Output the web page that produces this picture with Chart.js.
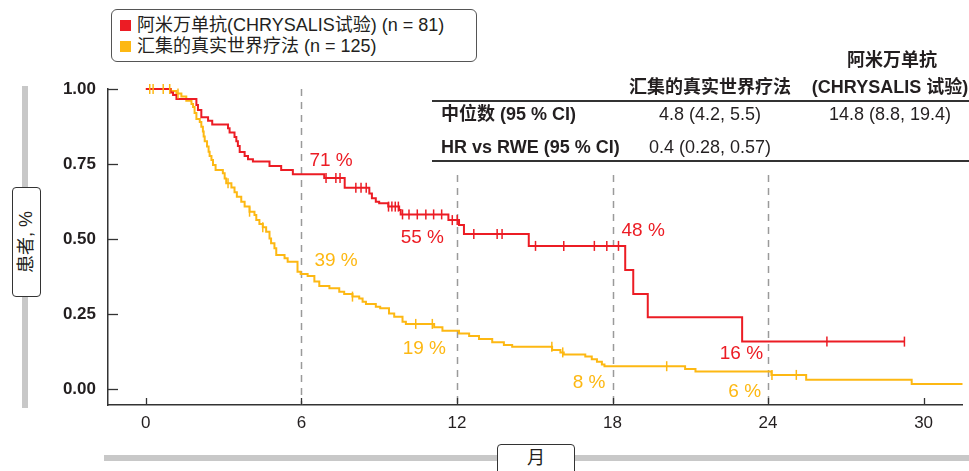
<!DOCTYPE html>
<html>
<head>
<meta charset="utf-8">
<script src="https://cdn.jsdelivr.net/npm/chart.js@4.4.1/dist/chart.umd.min.js"></script>
<style>
html,body{margin:0;padding:0;background:#fff;}
#wrap{position:relative;width:969px;height:471px;overflow:hidden;font-family:"Liberation Sans","Noto Sans CJK SC",Arial,sans-serif;color:#231f20;}
#c{position:absolute;left:0;top:0;}
.abs{position:absolute;white-space:nowrap;}
.legend{left:111px;top:9px;width:364px;height:51px;border:1.3px solid #555;border-radius:6px;background:#fff;}
.sq{position:absolute;width:11px;height:11px;}
.lt{position:absolute;font-size:18px;line-height:20px;}
.hdr{font-weight:bold;font-size:18px;line-height:20px;text-align:center;}
.cell{font-size:18px;line-height:20px;text-align:center;}
.rowlab{font-weight:bold;font-size:18px;line-height:20px;}
.hline{position:absolute;height:1.5px;background:#333;}
.bar{position:absolute;background:#c8c8c8;}
.tbox{position:absolute;background:#fff;border:1.3px solid #333;border-radius:4px;box-sizing:border-box;}
</style>
</head>
<body>
<div id="wrap">
<canvas id="c" width="969" height="471"></canvas>

<div class="abs legend">
  <div class="sq" style="left:8px;top:10px;background:#ec1c24;"></div>
  <div class="lt" style="left:25px;top:5px;">阿米万单抗(CHRYSALIS试验) (n = 81)</div>
  <div class="sq" style="left:8px;top:31px;background:#fdb813;"></div>
  <div class="lt" style="left:25px;top:26px;">汇集的真实世界疗法 (n = 125)</div>
</div>

<div class="abs hdr" style="left:802px;top:50px;width:180px;">阿米万单抗</div>
<div class="abs hdr" style="left:620px;top:77px;width:180px;">汇集的真实世界疗法</div>
<div class="abs hdr" style="left:800px;top:77px;width:180px;">(CHRYSALIS 试验)</div>
<div class="hline" style="left:432px;top:100px;width:537px;"></div>
<div class="abs rowlab" style="left:441px;top:104px;">中位数 (95 % CI)</div>
<div class="abs cell" style="left:620px;top:104px;width:180px;">4.8 (4.2, 5.5)</div>
<div class="abs cell" style="left:800px;top:104px;width:180px;">14.8 (8.8, 19.4)</div>
<div class="abs rowlab" style="left:441px;top:137px;">HR vs RWE (95 % CI)</div>
<div class="abs cell" style="left:620px;top:137px;width:180px;">0.4 (0.28, 0.57)</div>
<div class="hline" style="left:432px;top:160px;width:537px;"></div>

<div class="bar" style="left:22px;top:86px;width:6px;height:322px;"></div>
<div class="tbox" style="left:12px;top:187px;width:29px;height:110px;"></div>
<div class="abs" style="left:26px;top:242px;font-size:18px;line-height:20px;transform:translate(-50%,-50%) rotate(-90deg);">患者, %</div>

<div class="bar" style="left:104px;top:455px;width:865px;height:6px;"></div>
<div class="tbox" style="left:497px;top:444px;width:78px;height:40px;"></div>
<div class="abs" style="left:536px;top:458px;font-size:18px;line-height:20px;transform:translate(-50%,-50%);">月</div>
</div>

<script>
// ---------- data ----------
const xTicks = [0, 6, 12, 18, 24, 30];
const yTicks = [0, 0.25, 0.5, 0.75, 1.0];
const milestoneMonths = [6, 12, 18, 24];
const amiMilestoneLabels = ['71 %', '55 %', '48 %', '16 %'];
const rweMilestoneLabels = ['39 %', '19 %', '8 %', '6 %'];

const amiTimes = [0, 0.95, 1.05, 1.18, 1.95, 2.01, 2.14, 2.4, 2.56, 3.17, 3.23, 3.42, 3.49, 3.55, 3.62, 3.81, 3.94, 4.13, 4.77, 5.22, 5.67,
  6.88, 7.67, 8.62, 8.72, 8.87, 9.0, 9.35, 9.77, 9.83, 11.67, 12.08, 12.27, 14.77, 18.49, 18.8, 19.36, 23.0, 29.26];
const amiSurv = [1.0, 0.988, 0.98, 0.967, 0.947, 0.93, 0.906, 0.894, 0.882, 0.869, 0.855, 0.84, 0.826, 0.81, 0.79, 0.777, 0.766, 0.758, 0.743, 0.73, 0.716,
  0.703, 0.671, 0.652, 0.636, 0.624, 0.619, 0.608, 0.597, 0.582, 0.563, 0.547, 0.517, 0.477, 0.397, 0.317, 0.239, 0.158, 0.158];
const amiCensor = [6.95, 7.33, 7.49, 8.1, 8.3, 8.5, 9.36, 9.49, 9.62, 9.74, 9.9, 10.15, 10.47, 10.8, 11.1, 11.41, 11.82, 12.01,
  12.65, 13.55, 13.74, 15.03, 16.12, 17.3, 17.78, 18.23, 26.27, 29.26];

const rweTimes = [0, 0.97, 1.18, 1.37, 1.56, 1.76, 1.82, 1.88, 1.95, 2.08, 2.14, 2.2, 2.23, 2.27, 2.36, 2.42, 2.46, 2.53, 2.59, 2.69, 2.97,
  3.04, 3.1, 3.3, 3.42, 3.51, 3.68, 3.81, 4.0, 4.19, 4.26, 4.38, 4.51, 4.64, 4.77, 4.83, 4.96, 5.03, 5.35, 5.47, 5.85, 5.97, 6.24, 6.5,
  6.69, 7.08, 7.46, 7.65, 7.97, 8.23, 8.36, 8.49, 8.87, 9.04, 9.38, 9.58, 9.9, 10.03, 11.12, 11.44, 12.08, 12.47, 12.85, 13.36, 13.81,
  14.13, 15.67, 15.99, 16.12, 16.95, 17.2, 17.4, 17.59, 17.69, 20.8, 21.2, 24.13, 25.47, 29.54, 31.5];
const rweSurv = [1.0, 0.993, 0.985, 0.975, 0.961, 0.95, 0.94, 0.92, 0.9, 0.89, 0.874, 0.858, 0.842, 0.826, 0.808, 0.791, 0.777, 0.763, 0.747, 0.73, 0.719,
  0.702, 0.686, 0.672, 0.656, 0.641, 0.624, 0.608, 0.591, 0.58, 0.563, 0.55, 0.539, 0.524, 0.502, 0.486, 0.469, 0.447, 0.436, 0.424, 0.391, 0.383, 0.377, 0.358,
  0.343, 0.336, 0.324, 0.317, 0.308, 0.302, 0.291, 0.283, 0.274, 0.269, 0.252, 0.241, 0.224, 0.217, 0.206, 0.194, 0.185, 0.177, 0.167, 0.156, 0.147,
  0.141, 0.13, 0.122, 0.115, 0.108, 0.099, 0.091, 0.082, 0.076, 0.067, 0.058, 0.047, 0.031, 0.017, 0.017];
const rweCensor = [0.15, 0.28, 0.67, 0.92, 1.24, 3.17, 4.0, 4.51, 7.97, 10.41, 11.05, 15.66, 16.08, 20.09, 24.15, 25.09];

// ---------- styles ----------
const RED = '#ec1c24';
const YEL = '#fdb813';
const AXIS = '#333333';
const TXT = '#231f20';
const FONT = "'Liberation Sans', 'Noto Sans CJK SC', Arial, sans-serif";

function survAt(times, surv, t) {
  let v = surv[0];
  for (let i = 0; i < times.length; i++) { if (times[i] <= t) v = surv[i]; }
  return v;
}
const toPts = (ts, ss) => ts.map((t, i) => ({x: t, y: ss[i]}));
const censorPts = (cs, ts, ss) => cs.map(t => ({x: t, y: survAt(ts, ss, t)}));

const decor = {
  id: 'decor',
  beforeDatasetsDraw(chart) {
    const {ctx, chartArea, scales: {x}} = chart;
    ctx.save();
    ctx.strokeStyle = '#9a9a9a';
    ctx.lineWidth = 1.5;
    ctx.setLineDash([7, 6]);
    milestoneMonths.forEach((m, i) => {
      const px = Math.round(x.getPixelForValue(m)) + 0.5;
      const top = i === 0 ? chartArea.top : 175;
      ctx.beginPath();
      ctx.moveTo(px, top);
      ctx.lineTo(px, chartArea.bottom);
      ctx.stroke();
    });
    ctx.restore();
  },
  afterDraw(chart) {
    const {ctx, chartArea, scales: {x, y}} = chart;
    ctx.save();
    ctx.strokeStyle = AXIS;
    ctx.lineWidth = 1.3;
    yTicks.forEach(v => {
      const py = Math.round(y.getPixelForValue(v)) + 0.5;
      ctx.beginPath(); ctx.moveTo(chartArea.left, py); ctx.lineTo(chartArea.left + 10, py); ctx.stroke();
    });
    xTicks.forEach(v => {
      const px = Math.round(x.getPixelForValue(v)) + 0.5;
      ctx.beginPath(); ctx.moveTo(px, chartArea.bottom); ctx.lineTo(px, chartArea.bottom - 7); ctx.stroke();
    });
    ctx.font = '19px ' + FONT;
    ctx.textBaseline = 'middle';
    const amiPlace = [{dx: 8, dy: -13, a: 'left'}, {dx: -13, dy: 18, a: 'right'}, {dx: 9, dy: -15, a: 'left'}, {dx: -5, dy: 12, a: 'right'}];
    const rwePlace = [{dx: 13, dy: -13, a: 'left'}, {dx: -11, dy: 18, a: 'right'}, {dx: -7, dy: 17, a: 'right'}, {dx: -7, dy: 20, a: 'right'}];
    milestoneMonths.forEach((m, i) => {
      const px = x.getPixelForValue(m);
      let p = amiPlace[i];
      ctx.fillStyle = RED; ctx.textAlign = p.a;
      ctx.fillText(amiMilestoneLabels[i], px + p.dx, y.getPixelForValue(survAt(amiTimes, amiSurv, m)) + p.dy);
      p = rwePlace[i];
      ctx.fillStyle = YEL; ctx.textAlign = p.a;
      ctx.fillText(rweMilestoneLabels[i], px + p.dx, y.getPixelForValue(survAt(rweTimes, rweSurv, m)) + p.dy);
    });
    ctx.restore();
  }
};

new Chart(document.getElementById('c'), {
  type: 'scatter',
  data: {
    datasets: [
      {label: 'rwe', data: toPts(rweTimes, rweSurv), showLine: true, stepped: 'before', borderColor: YEL, borderWidth: 2, pointRadius: 0, clip: false, order: 3},
      {label: 'ami', data: toPts(amiTimes, amiSurv), showLine: true, stepped: 'before', borderColor: RED, borderWidth: 2, pointRadius: 0, clip: false, order: 2},
      {label: 'rweC', data: censorPts(rweCensor, rweTimes, rweSurv), showLine: false, pointStyle: 'line', rotation: 90, radius: 5, borderWidth: 1.5, borderColor: YEL, backgroundColor: YEL, clip: false, order: 1},
      {label: 'amiC', data: censorPts(amiCensor, amiTimes, amiSurv), showLine: false, pointStyle: 'line', rotation: 90, radius: 5, borderWidth: 1.5, borderColor: RED, backgroundColor: RED, clip: false, order: 0}
    ]
  },
  options: {
    responsive: false,
    devicePixelRatio: 1,
    animation: false,
    events: [],
    layout: {padding: {left: 48, top: 89, right: 4, bottom: 26}},
    plugins: {legend: {display: false}, tooltip: {enabled: false}, title: {display: false}},
    scales: {
      x: {
        type: 'linear', min: -1.46, max: 31.5,
        grid: {display: false, drawTicks: false},
        border: {display: true, color: AXIS, width: 1.5},
        ticks: {font: {family: FONT, size: 17}, color: TXT, padding: 8},
        afterBuildTicks: s => { s.ticks = xTicks.map(v => ({value: v})); },
        afterFit: s => { s.height = 40; }
      },
      y: {
        type: 'linear', min: -0.0533, max: 1.0,
        grid: {display: false, drawTicks: false},
        border: {display: true, color: AXIS, width: 1.5},
        ticks: {font: {family: FONT, size: 17, weight: 'bold'}, color: TXT, padding: 12, callback: v => Number(v).toFixed(2)},
        afterBuildTicks: s => { s.ticks = yTicks.map(v => ({value: v})); },
        afterFit: s => { s.width = 60; }
      }
    }
  },
  plugins: [decor]
});
</script>
</body>
</html>
